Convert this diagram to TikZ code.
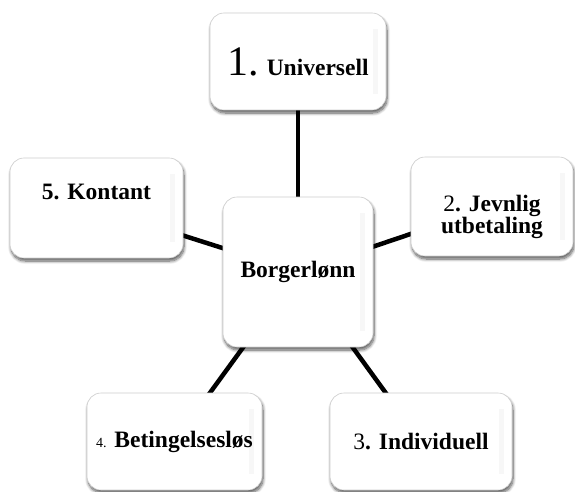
\documentclass[tikz,border=0pt]{standalone}
\usepackage{fontspec}
\setmainfont{Liberation Serif}
\usetikzlibrary{shadows.blur,backgrounds}

\tikzset{
	kasse/.style={draw=gray!40, line width=0.6pt, fill=white, rounded corners=14pt,
		blur shadow={shadow xshift=1pt, shadow yshift=-3pt, shadow blur radius=3pt, shadow blur steps=8, shadow opacity=65},
		inner sep=0pt, align=center, font=\fontsize{23.5}{22}\selectfont,
		path picture={
			\fill[gray!6, rounded corners=0pt]
				([xshift=-13pt, yshift=-16pt]path picture bounding box.north east) rectangle
				([xshift=-8pt, yshift=16pt]path picture bounding box.south east);
		}},
	strek/.style={line width=4.5pt}
}

\begin{document}
\begin{tikzpicture}[x=1pt, y=-1pt]
		\useasboundingbox (0, 0) rectangle (575, 492);
		
		\node[kasse, minimum width=176, minimum height=97] (uni) at (298, 61.5)
			{{\fontsize{42}{42}\selectfont 1.} \textbf{Universell}};
		\node[kasse, minimum width=150, minimum height=150] (kjerne) at (298, 272)
			{\textbf{Borgerlønn}};
		\node[kasse, minimum width=173, minimum height=100, text height=23pt, text depth=41pt] (kont) at (96.5, 208)
			{\textbf{5. Kontant}};
		\node[kasse, minimum width=162, minimum height=99] (jevn) at (492, 206.5)
			{\rule{0pt}{38pt}2\textbf{. Jevnlig}\\ \textbf{utbetaling}};
		\node[kasse, minimum width=175, minimum height=97] (betin) at (174.5, 441.5)
			{{\fontsize{14}{14}\selectfont 4.} \textbf{Betingelsesløs}};
		\node[kasse, minimum width=182, minimum height=97] (indiv) at (421, 441.5)
			{3\textbf{. Individuell}};
		
		\begin{scope}[on background layer]
			\draw[strek] (uni.center) -- (kjerne.center);
			\foreach \k in {kont, jevn, betin, indiv} \draw[strek] (\k.center) -- (kjerne.center);
		\end{scope}
		\end{tikzpicture}
\end{document}
